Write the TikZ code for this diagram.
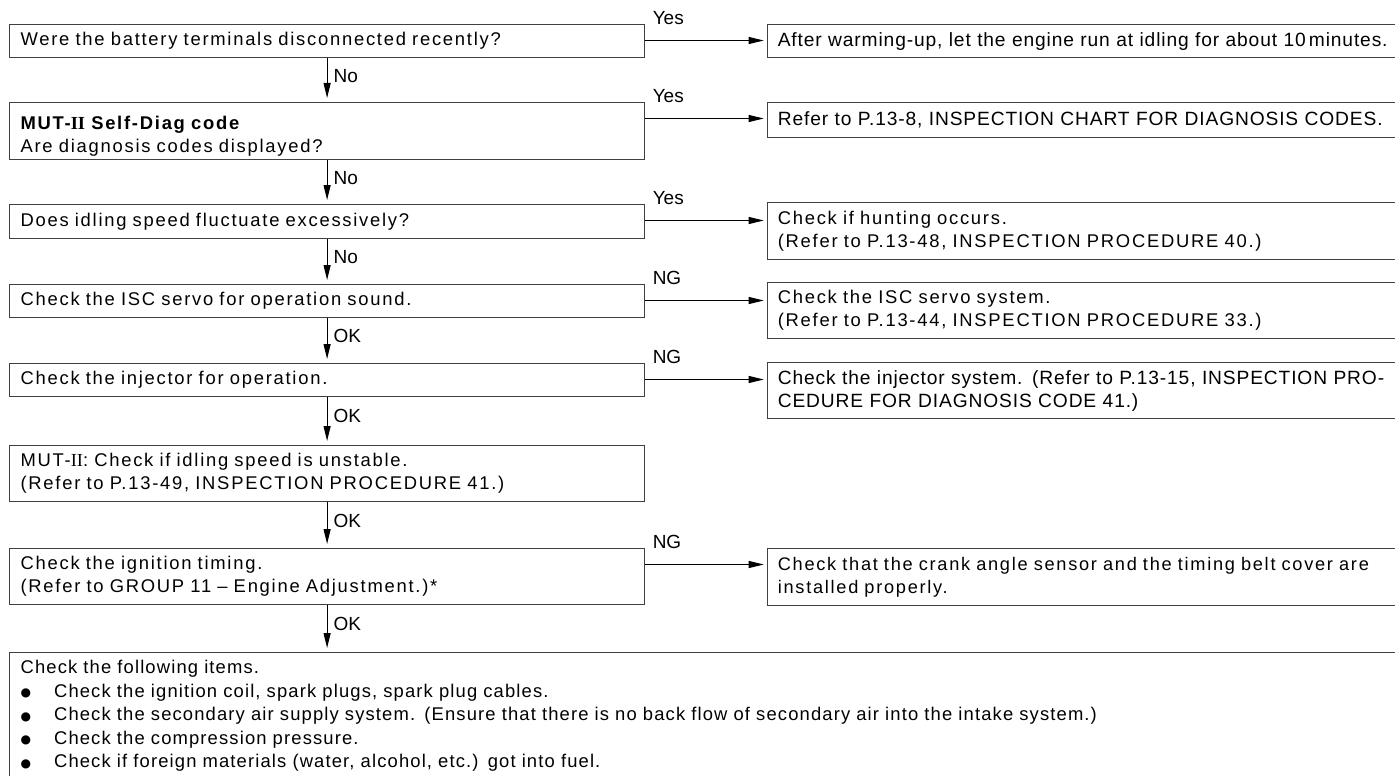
\documentclass[tikz,border=0pt]{standalone}
\usepackage{fontspec}
\setmainfont{Liberation Sans}
\newfontfamily\widefont{Liberation Sans}[LetterSpace=9.5]
\newfontfamily\tightfont{Liberation Sans}[LetterSpace=4.5]
\newfontfamily\itemfont{Liberation Sans}[LetterSpace=6.2]
\newfontfamily\romanII{Liberation Serif}
\newfontfamily\dotfont{DejaVu Sans}
\usetikzlibrary{arrows.meta}
\newcommand{\itemdot}{\makebox[33.5pt][l]{\raisebox{0.5pt}{\dotfont\fontsize{12}{12}\selectfont ●}}}

\begin{document}
\begin{tikzpicture}[
    x=1pt, y=-1pt,
    flow/.style={draw=black, line width=1.1pt, -{Triangle[length=15pt, width=7pt]}},
    question/.style={
        draw=black!75,
        line width=1.2pt,
        anchor=north west,
        text width=613pt,
        align=left,
        inner xsep=11pt,
        inner ysep=0pt,
        font=\widefont\fontsize{18.4}{23}\selectfont
    },
    answer/.style={
        question,
        text width=639pt,
        inner xsep=10.5pt,
        font=\tightfont\fontsize{19.2}{23}\selectfont
    },
    widebox/.style={
        answer,
        font=\widefont\fontsize{18.4}{23}\selectfont
    },
    vlabel/.style={anchor=west, inner sep=0pt, xshift=6pt, font=\fontsize{19}{19}\selectfont},
    hlabel/.style={anchor=base west, inner sep=0pt, xshift=7pt, yshift=16pt, font=\fontsize{19}{19}\selectfont}
]
\useasboundingbox (0,0) rectangle (1395,776);

% left column
\node[question, minimum height=33pt] (q1) at (9,24)
{Were the battery terminals disconnected recently?};
\node[question, minimum height=57pt] (q2) at (9,102)
{\rule{0pt}{23pt}\textbf{MUT-{\romanII II} Self-Diag code}\\Are diagnosis codes displayed?};
\node[question, minimum height=34pt] (q3) at (9,204)
{Does idling speed fluctuate excessively?};
\node[question, minimum height=33pt] (q4) at (9,284)
{Check the ISC servo for operation sound.};
\node[question, minimum height=33pt] (q5) at (9,363)
{Check the injector for operation.};
\node[question, minimum height=56pt] (q6) at (9,445)
{MUT-{\romanII II}: Check if idling speed is unstable.\\(Refer to P.13-49, INSPECTION PROCEDURE 41.)};
\node[question, minimum height=56pt] (q7) at (9,548)
{Check the ignition timing.\\(Refer to GROUP 11 \textendash{} Engine Adjustment.)*};
\node[question, text width=1400pt, inner ysep=8pt, font=\itemfont\fontsize{18.4}{23.5}\selectfont] (items) at (9,652)
{Check the following items.\\
\itemdot Check the ignition coil, spark plugs, spark plug cables.\\
\itemdot Check the secondary air supply system. (Ensure that there is no back flow of secondary air into the intake system.)\\
\itemdot Check the compression pressure.\\
\itemdot Check if foreign materials (water, alcohol, etc.) got into fuel.\\
\mbox{}};

% right column
\node[answer, minimum height=33pt] (a1) at (766.7,24)
{After warming-up, let the engine run at idling for about 10\,minutes.};
\node[answer, minimum height=35pt] (a2) at (766.7,102)
{Refer to P.13-8, INSPECTION CHART FOR DIAGNOSIS CODES.};
\node[widebox, minimum height=57pt] (a3) at (766.7,202)
{Check if hunting occurs.\\(Refer to P.13-48, INSPECTION PROCEDURE 40.)};
\node[widebox, minimum height=56pt] (a4) at (766.7,282)
{Check the ISC servo system.\\(Refer to P.13-44, INSPECTION PROCEDURE 33.)};
\node[answer, minimum height=56pt] (a5) at (766.7,362)
{Check the injector system. (Refer to P.13-15, INSPECTION PRO-\\CEDURE FOR DIAGNOSIS CODE 41.)};
\node[widebox, minimum height=57pt, font=\widefont\fontsize{18.2}{23}\selectfont] (a7) at (766.7,548)
{Check that the crank angle sensor and the timing belt cover are\\installed properly.};

% downward flow
\draw[flow, shorten >=4pt] (q1.south) -- node[vlabel, pos=0.4] {No} (q2.north);
\draw[flow, shorten >=4pt] (q2.south) -- node[vlabel, pos=0.4] {No} (q3.north);
\draw[flow, shorten >=4pt] (q3.south) -- node[vlabel, pos=0.4] {No} (q4.north);
\draw[flow, shorten >=4pt] (q4.south) -- node[vlabel, pos=0.4] {OK} (q5.north);
\draw[flow, shorten >=4pt] (q5.south) -- node[vlabel, pos=0.4] {OK} (q6.north);
\draw[flow, shorten >=4pt] (q6.south) -- node[vlabel, pos=0.4] {OK} (q7.north);
\draw[flow, shorten >=4pt] (q7.south) -- node[vlabel, pos=0.4] {OK} (q7.south |- items.north);

% branches to the right
\draw[flow, shorten >=3pt] ([yshift=-16.5pt]q1.north east) -- node[hlabel, at start] {Yes} ([yshift=-16.5pt]q1.north east -| a1.west);
\draw[flow, shorten >=3pt] ([yshift=-16.5pt]q2.north east) -- node[hlabel, at start] {Yes} ([yshift=-16.5pt]q2.north east -| a2.west);
\draw[flow, shorten >=3pt] ([yshift=-16.5pt]q3.north east) -- node[hlabel, at start] {Yes} ([yshift=-16.5pt]q3.north east -| a3.west);
\draw[flow, shorten >=3pt] ([yshift=-16.5pt]q4.north east) -- node[hlabel, at start] {NG} ([yshift=-16.5pt]q4.north east -| a4.west);
\draw[flow, shorten >=3pt] ([yshift=-16.5pt]q5.north east) -- node[hlabel, at start] {NG} ([yshift=-16.5pt]q5.north east -| a5.west);
\draw[flow, shorten >=3pt] ([yshift=-16.5pt]q7.north east) -- node[hlabel, at start] {NG} ([yshift=-16.5pt]q7.north east -| a7.west);

\end{tikzpicture}
\end{document}
